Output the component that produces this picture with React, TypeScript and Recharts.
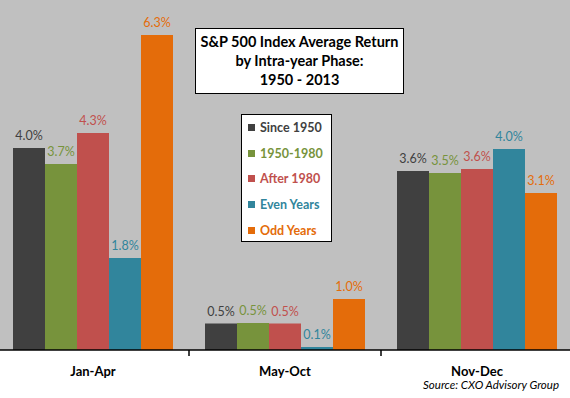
import { Bar, BarChart, CartesianGrid, LabelList, Legend, XAxis, YAxis } from "recharts";

const phases = ["Jan-Apr", "May-Oct", "Nov-Dec"];
const since1950 = [4.04, 0.53, 3.58];
const from1950to1980 = [3.72, 0.54, 3.54];
const after1980 = [4.34, 0.53, 3.62];
const evenYears = [1.84, 0.06, 4.02];
const oddYears = [6.3, 1.02, 3.14];

const SERIES = [
  { key: "since1950", name: "Since 1950", color: "#404040", values: since1950 },
  { key: "y1950_1980", name: "1950-1980", color: "#77933C", values: from1950to1980 },
  { key: "after1980", name: "After 1980", color: "#C0504D", values: after1980 },
  { key: "even", name: "Even Years", color: "#31859C", values: evenYears },
  { key: "odd", name: "Odd Years", color: "#E46C0A", values: oddYears },
];

const data = phases.map((phase, i) => {
  const row: Record<string, string | number> = { phase };
  SERIES.forEach((s) => (row[s.key] = s.values[i]));
  return row;
});

const FONT = "Lato, 'Open Sans', sans-serif";
const BAND = 192;

function PhaseTick(props: any) {
  const { x, y, payload } = props;
  return (
    <g>
      <line x1={x - BAND / 2} x2={x - BAND / 2} y1={y} y2={y + 6} stroke="#000" strokeWidth={1.5} />
      <text x={x} y={y + 26} textAnchor="middle" fontFamily={FONT} fontWeight="bold" fontSize={13} fill="#000">
        {payload.value}
      </text>
    </g>
  );
}

function LegendBox() {
  return (
    <div
      style={{
        width: 89,
        height: 126,
        border: "1px solid #000",
        background: "#fff",
        fontFamily: FONT,
        fontWeight: "bold",
        fontSize: 12.5,
      }}
    >
      {SERIES.map((s) => (
        <div key={s.key} style={{ height: 25.6, display: "flex", alignItems: "center", color: s.color }}>
          <span style={{ width: 7, height: 7, background: s.color, marginLeft: 6, marginRight: 5 }} />
          {s.name}
        </div>
      ))}
    </div>
  );
}

export default function App() {
  return (
    <div style={{ position: "absolute", left: 0, top: 0, width: 570, height: 398, overflow: "hidden", background: "#fff" }}>
      <div style={{ position: "absolute", left: -3, top: 0 }}>
        <BarChart
          width={576}
          height={398}
          data={data}
          margin={{ top: 0, right: 0, bottom: 0, left: 0 }}
          barCategoryGap={16}
          barGap={0}
        >
          <CartesianGrid fill="#C0C0C0" stroke="none" horizontal={false} vertical={false} />
          <XAxis
            dataKey="phase"
            height={48}
            tickSize={0}
            tickMargin={0}
            tickLine={false}
            axisLine={{ stroke: "#000", strokeWidth: 1.5 }}
            tick={<PhaseTick />}
            interval={0}
          />
          <YAxis hide domain={[0, 7]} />
          <Legend
            layout="vertical"
            align="center"
            verticalAlign="middle"
            content={() => <LegendBox />}
            wrapperStyle={{ left: 244, top: 114, width: 91 }}
          />
          {SERIES.map((s) => (
            <Bar key={s.key} dataKey={s.key} name={s.name} fill={s.color} isAnimationActive={false}>
              <LabelList
                dataKey={s.key}
                position="top"
                offset={8}
                fill={s.color}
                fontFamily={FONT}
                fontSize={12.5}
                formatter={(v: any) => `${Number(v).toFixed(1)}%`}
              />
            </Bar>
          ))}
        </BarChart>
      </div>
      <div
        style={{
          position: "absolute",
          left: 195,
          top: 28,
          width: 207,
          height: 61,
          border: "1px solid #000",
          background: "#fff",
          fontFamily: FONT,
          fontWeight: "bold",
          fontSize: 14.5,
          lineHeight: "19px",
          textAlign: "center",
          paddingTop: 3,
          boxSizing: "content-box",
        }}
      >
        S&amp;P 500 Index Average Return
        <br />
        by Intra-year Phase:
        <br />
        1950 - 2013
      </div>
      <div
        style={{
          position: "absolute",
          right: 11,
          top: 378,
          fontFamily: FONT,
          fontStyle: "italic",
          fontSize: 11.5,
          color: "#000",
        }}
      >
        Source: CXO Advisory Group
      </div>
    </div>
  );
}
